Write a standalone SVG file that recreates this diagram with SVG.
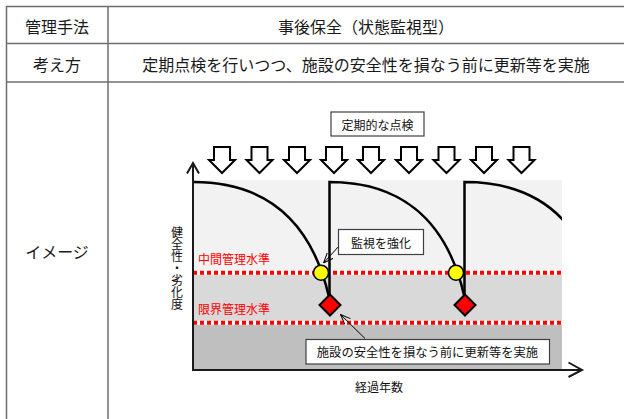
<svg xmlns="http://www.w3.org/2000/svg" width="624" height="419" viewBox="0 0 624 419">
<style>
.tl{stroke:#6e6e6e;stroke-width:1.5;fill:none}
.tt{font-family:"Noto Sans CJK JP","Noto Sans",sans-serif;font-size:16px;fill:#1a1a1a;text-anchor:middle;dominant-baseline:central}
.ct{font-family:"Noto Sans CJK JP","Noto Sans",sans-serif;font-size:12px;fill:#111;text-anchor:middle;dominant-baseline:central}
.rt{font-family:"Noto Sans CJK JP","Noto Sans",sans-serif;font-size:12px;fill:#ff0000;dominant-baseline:central}
.box{fill:#fff;stroke:#404040;stroke-width:1.2}
.dArrow{fill:#fff;stroke:#000;stroke-width:2;stroke-linejoin:miter}
.crv{fill:none;stroke:#000;stroke-width:2.5}
.ax{fill:none;stroke:#1a1a1a;stroke-width:2}
.lead{fill:none;stroke:#000;stroke-width:1}
.dotw{stroke:#fff;stroke-width:4}
.dotr{stroke:#ff0000;stroke-width:4;stroke-dasharray:4 3}
</style>
<defs>
<marker id="open" viewBox="0 0 10 10" refX="10" refY="5" markerWidth="10" markerHeight="10" markerUnits="userSpaceOnUse" orient="auto">
<path d="M0,1 L10,5 L0,9" fill="none" stroke="#000" stroke-width="1"/>
</marker>
<path id="dn" d="M-8,0 H8 V13 H13 L0,26 L-13,13 H-8 Z"/>
<clipPath id="chartClip"><rect x="193" y="170" width="369" height="200"/></clipPath>
</defs>
<rect width="624" height="419" fill="#fff"/>
<g id="table">
<line class="tl" x1="6" y1="6.5" x2="624" y2="6.5"/>
<line class="tl" x1="6" y1="43.5" x2="624" y2="43.5"/>
<line class="tl" x1="6" y1="82" x2="624" y2="82"/>
<line class="tl" x1="6.5" y1="6" x2="6.5" y2="419"/>
<line class="tl" x1="108" y1="6" x2="108" y2="419"/>
<text class="tt" x="57" y="25.5">管理手法</text>
<text class="tt" x="366" y="25.5">事後保全（状態監視型）</text>
<text class="tt" x="57" y="63.5">考え方</text>
<text class="tt" x="366" y="63.5">定期点検を行いつつ、施設の安全性を損なう前に更新等を実施</text>
<text class="tt" x="57" y="251">イメージ</text>
</g>
<g id="bands">
<rect x="193" y="180" width="369" height="92.7" fill="#f2f2f2"/>
<rect x="193" y="272.7" width="369" height="50" fill="#d9d9d9"/>
<rect x="193" y="322.7" width="369" height="47.3" fill="#bfbfbf"/>
</g>
<g id="levels">
<line class="dotw" x1="193" y1="272.7" x2="562" y2="272.7"/>
<line class="dotr" x1="193" y1="272.7" x2="562" y2="272.7"/>
<line class="dotw" x1="193" y1="322.7" x2="562" y2="322.7"/>
<line class="dotr" x1="193" y1="322.7" x2="562" y2="322.7"/>
<text class="rt" x="198" y="258">中間管理水準</text>
<text class="rt" x="198" y="308">限界管理水準</text>
</g>
<g id="inspection-arrows">
<use href="#dn" class="dArrow" x="222" y="147"/>
<use href="#dn" class="dArrow" x="259.5" y="147"/>
<use href="#dn" class="dArrow" x="297" y="147"/>
<use href="#dn" class="dArrow" x="334" y="147"/>
<use href="#dn" class="dArrow" x="371" y="147"/>
<use href="#dn" class="dArrow" x="409" y="147"/>
<use href="#dn" class="dArrow" x="446.5" y="147"/>
<use href="#dn" class="dArrow" x="484" y="147"/>
<use href="#dn" class="dArrow" x="521.5" y="147"/>
</g>
<g id="curves" clip-path="url(#chartClip)">
<path class="crv" d="M193,182 C260,182 310,215 329,297"/>
<path class="crv" d="M329.5,297 V182 C396,182 446,215 464.5,297"/>
<path class="crv" d="M464.5,297 V182 C532,182 582,215 600,297"/>
</g>
<g id="axes">
<line class="ax" x1="193" y1="163" x2="193" y2="370"/>
<line class="ax" x1="192" y1="370" x2="582" y2="370"/>
<polyline class="ax" points="187,173.5 193,163 199,173.5" stroke-width="1.6"/>
<polyline class="ax" points="568.5,362.5 582,370 568.5,377" stroke-width="1.6"/>
<text class="ct" x="177" y="226" style="writing-mode:vertical-rl;text-orientation:upright;text-anchor:start">健全性・劣化度</text>
<text class="ct" x="379" y="386">経過年数</text>
</g>
<g id="markers">
<circle cx="321" cy="272.7" r="7.5" fill="#ffff00" stroke="#000" stroke-width="1.5"/>
<circle cx="456" cy="272.7" r="7.5" fill="#ffff00" stroke="#000" stroke-width="1.5"/>
<polygon points="330,294.5 340.5,305 330,315.5 319.5,305" fill="#ff0000" stroke="#000" stroke-width="2"/>
<polygon points="465,294.5 475.5,305 465,315.5 454.5,305" fill="#ff0000" stroke="#000" stroke-width="2"/>
</g>
<g id="connectors">
<line class="lead" x1="339" y1="246" x2="323.5" y2="263" marker-end="url(#open)"/>
<line class="lead" x1="365" y1="338.5" x2="340.5" y2="314.5" marker-end="url(#open)"/>
</g>
<g id="label-inspection">
<rect class="box" x="331" y="112" width="93" height="24"/>
<text class="ct" x="377.5" y="124">定期的な点検</text>
</g>
<g id="label-monitor">
<rect class="box" x="338.5" y="229.5" width="85" height="25"/>
<text class="ct" x="381" y="242">監視を強化</text>
</g>
<g id="label-renew">
<rect class="box" x="306" y="339.5" width="243.5" height="24.5"/>
<text class="ct" x="427.5" y="351.5" style="font-size:12.3px">施設の安全性を損なう前に更新等を実施</text>
</g>
</svg>
